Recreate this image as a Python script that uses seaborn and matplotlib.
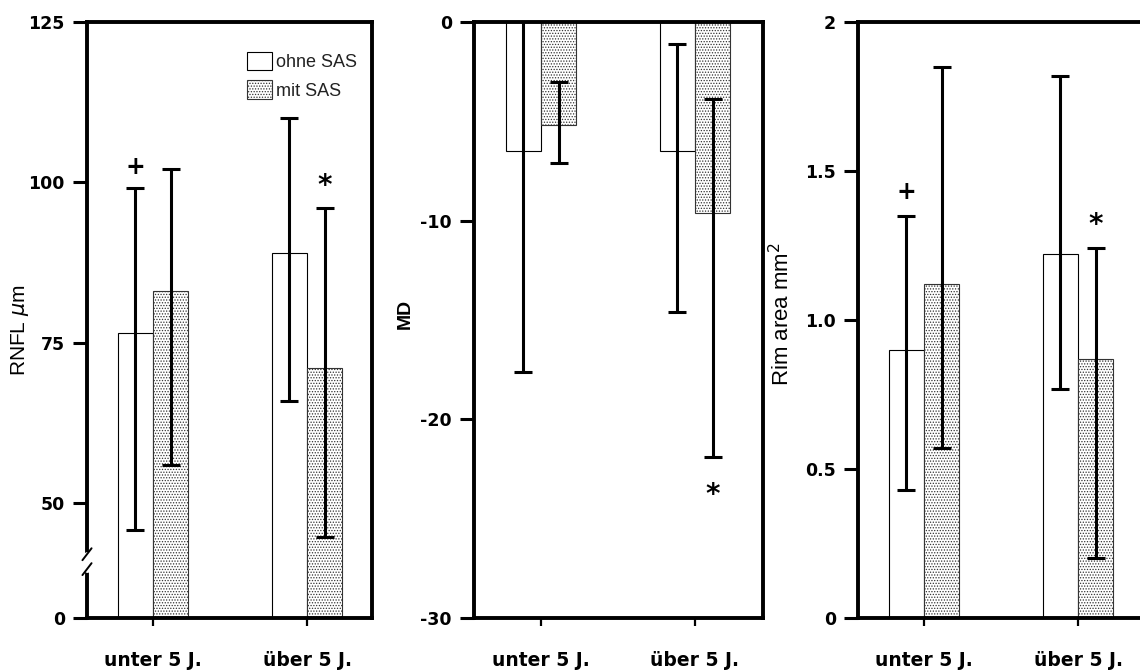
import numpy as np
import pandas as pd
import seaborn as sns
import matplotlib.pyplot as plt
from matplotlib.patches import Patch

categories = ["unter 5 J.", "über 5 J."]
groups = ["ohne SAS", "mit SAS"]

# RNFL (µm)
rnfl_ohne = [76.5, 89.0]
rnfl_ohne_lo = [38.3, 65.9]
rnfl_ohne_hi = [99.1, 110.0]
rnfl_mit = [83.0, 71.0]
rnfl_mit_lo = [55.9, 35.2]
rnfl_mit_hi = [102.0, 96.0]

# MD
md_ohne = [-6.5, -6.5]
md_ohne_lo = [-17.6, -14.6]
md_ohne_hi = [4.6, -1.1]
md_mit = [-5.2, -9.6]
md_mit_lo = [-7.1, -21.9]
md_mit_hi = [-3.0, -3.9]

# Rim area (mm2)
rim_ohne = [0.90, 1.22]
rim_ohne_lo = [0.43, 0.77]
rim_ohne_hi = [1.35, 1.82]
rim_mit = [1.12, 0.87]
rim_mit_lo = [0.57, 0.20]
rim_mit_hi = [1.85, 1.24]

sns.set_style("ticks")
plt.rcParams['font.family'] = ['DejaVu Sans']
plt.rcParams['hatch.linewidth'] = 0.6
plt.rcParams['text.color'] = 'black'
plt.rcParams['axes.labelcolor'] = 'black'
plt.rcParams['xtick.color'] = 'black'
plt.rcParams['ytick.color'] = 'black'
plt.rcParams['axes.edgecolor'] = 'black'

DOTS = '......'
W, H = 1140, 671

fig = plt.figure(figsize=(11.4, 6.71), dpi=100)
ax1 = fig.add_axes([87 / W, 53 / H, 285 / W, 596 / H])
ax2 = fig.add_axes([474 / W, 53 / H, 289 / W, 596 / H])
ax3 = fig.add_axes([858 / W, 53 / H, 290 / W, 596 / H])


def panel(ax, ohne, ohne_lo, ohne_hi, mit, mit_lo, mit_hi):
    df = pd.DataFrame({
        'Alter': categories * 2,
        'Wert': ohne + mit,
        'Gruppe': [groups[0]] * 2 + [groups[1]] * 2,
    })
    sns.barplot(data=df, x='Alter', y='Wert', hue='Gruppe', hue_order=groups,
                palette=['white', 'white'], width=0.46, gap=0, errorbar=None,
                legend=False, ax=ax, edgecolor='black', linewidth=0.8)
    for bar in ax.containers[1]:
        bar.set_hatch(DOTS)
        bar.set_edgecolor('#333333')
    centers = []
    for cont, mean, lo, hi in [(ax.containers[0], ohne, ohne_lo, ohne_hi),
                               (ax.containers[1], mit, mit_lo, mit_hi)]:
        xs = [b.get_x() + b.get_width() / 2 for b in cont]
        centers.append(xs)
        m = np.array(mean)
        yerr = [m - np.array(lo), np.array(hi) - m]
        ax.errorbar(xs, m, yerr=yerr, fmt='none', ecolor='black',
                    elinewidth=2.2, capsize=6.5, capthick=2.2, zorder=3)
    ax.set_xlabel('')
    ax.tick_params(axis='y', direction='out', length=10, width=2.2,
                   labelsize=12.5, pad=6, colors='black')
    ax.tick_params(axis='x', direction='out', length=6, width=1.6,
                   labelsize=13.5, pad=18, colors='black')
    for lab in ax.get_xticklabels() + ax.get_yticklabels():
        lab.set_fontweight('bold')
    for sp in ax.spines.values():
        sp.set_linewidth(2.8)
        sp.set_color('black')
        sp.set_visible(True)
    return centers


# panel 1: RNFL with broken axis below 50
k = 0.359


def fwd(y):
    y = np.asarray(y, dtype=float)
    return np.where(y >= 50, y, 50 - (50 - y) * k)


def inv(u):
    u = np.asarray(u, dtype=float)
    return np.where(u >= 50, u, 50 - (50 - u) / k)


c1 = panel(ax1, rnfl_ohne, rnfl_ohne_lo, rnfl_ohne_hi, rnfl_mit, rnfl_mit_lo, rnfl_mit_hi)
ax1.set_yscale('function', functions=(fwd, inv))
ax1.set_ylim(0, 125)
ax1.set_yticks([0, 50, 75, 100, 125])
ax1.set_yticklabels(['0', '50', '75', '100', '125'], fontweight='bold')
ax1.set_xlim(-0.4286, 1.422)
ax1.set_ylabel(r'RNFL $\mu$m', fontsize=15, family='Liberation Sans')
ax1.yaxis.set_label_coords(-0.235, 0.483)
ax1.yaxis.label.set_va('center')
ax1.text(c1[0][0], 102.4, '+', ha='center', va='center', fontsize=17, fontweight='bold')
ax1.text(c1[1][1], 99.5, '*', ha='center', va='center', fontsize=20, fontweight='bold')
# axis break marks
ax1.plot([0, 0], [0.082, 0.105], transform=ax1.transAxes, color='white', lw=5,
         clip_on=False, zorder=6)
ax1.plot([-0.016, 0.016], [0.072, 0.092], transform=ax1.transAxes, color='black',
         lw=1.4, clip_on=False, zorder=7)
ax1.plot([-0.016, 0.016], [0.097, 0.117], transform=ax1.transAxes, color='black',
         lw=1.4, clip_on=False, zorder=7)
handles = [Patch(facecolor='white', edgecolor='black', lw=0.8, label=groups[0]),
           Patch(facecolor='white', edgecolor='#333333', lw=0.8, hatch=DOTS, label=groups[1])]
leg = ax1.legend(handles=handles, loc='upper left', bbox_to_anchor=(0.53, 0.965),
                 frameon=False, fontsize=13, handlelength=1.4, handleheight=1.2,
                 handletextpad=0.2, labelspacing=0.5, borderpad=0)
for t in leg.get_texts():
    t.set_family('Liberation Sans')
    t.set_color('#222222')

# panel 2: MD
c2 = panel(ax2, md_ohne, md_ohne_lo, md_ohne_hi, md_mit, md_mit_lo, md_mit_hi)
ax2.set_ylim(-30, 0)
ax2.set_yticks([0, -10, -20, -30])
ax2.set_yticklabels(['0', '-10', '-20', '-30'], fontweight='bold')
ax2.set_xlim(-0.435, 1.442)
ax2.set_ylabel('MD', fontsize=14, fontweight='bold', family='Liberation Sans')
ax2.yaxis.set_label_coords(-0.239, 0.51)
ax2.yaxis.label.set_va('center')
ax2.text(c2[1][1], -23.8, '*', ha='center', va='center', fontsize=20, fontweight='bold')

# panel 3: Rim area
c3 = panel(ax3, rim_ohne, rim_ohne_lo, rim_ohne_hi, rim_mit, rim_mit_lo, rim_mit_hi)
ax3.set_ylim(0, 2)
ax3.set_yticks([0, 0.5, 1.0, 1.5, 2])
ax3.set_yticklabels(['0', '0.5', '1.0', '1.5', '2'], fontweight='bold')
ax3.set_xlim(-0.4286, 1.454)
ax3.set_ylabel(r'Rim area mm$^2$', fontsize=16, family='Liberation Sans')
ax3.yaxis.set_label_coords(-0.265, 0.51)
ax3.yaxis.label.set_va('center')
ax3.text(c3[0][0], 1.43, '+', ha='center', va='center', fontsize=17, fontweight='bold')
ax3.text(c3[1][1], 1.32, '*', ha='center', va='center', fontsize=20, fontweight='bold')

fig.savefig('out.png', dpi=100)
